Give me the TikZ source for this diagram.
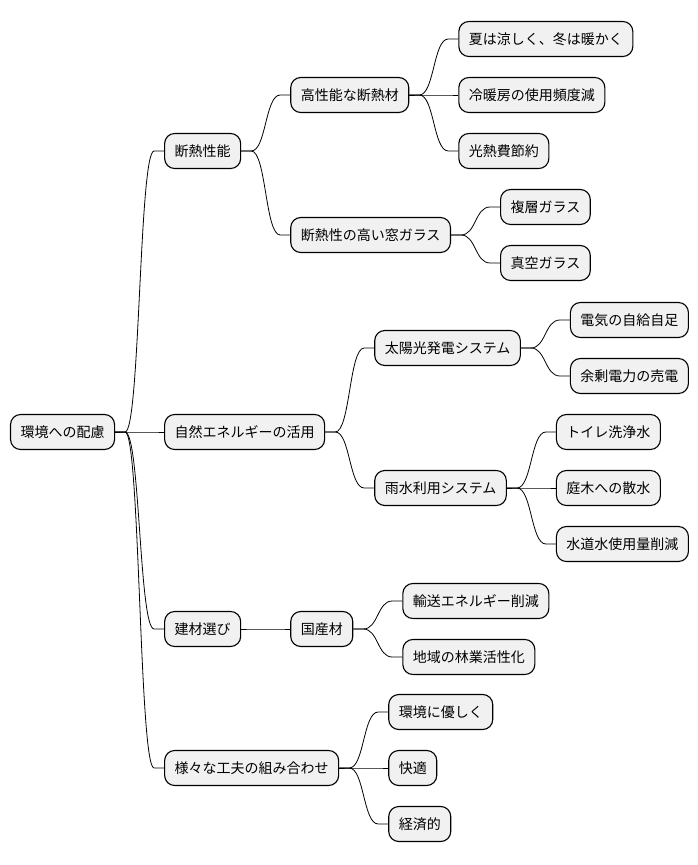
\documentclass[tikz,border=0pt]{standalone}
\usepackage{fontspec}
\setmainfont{Noto Sans CJK JP}
\usetikzlibrary{positioning,calc}
\definecolor{nodegray}{HTML}{F1F1F1}
\tikzstyle{idea}=[draw, fill=nodegray, rounded corners=10pt, line width=1.1pt, inner xsep=10pt, minimum height=35pt, font=\fontsize{14pt}{17pt}\selectfont]
\tikzset{branch/.style={line width=0.8pt, to path={-- ++(10pt,0) .. controls +(15pt,0) and +(-15pt,0) .. ([xshift=-10pt]\tikztotarget) -- (\tikztotarget)}}}

\begin{document}
\begin{tikzpicture}[node distance=49pt]
\node[idea] (R) {環境への配慮};
\node[idea, right=of R, yshift=281pt] (A) {断熱性能};
\node[idea, right=of R] (B) {自然エネルギーの活用};
\node[idea, right=of R, yshift=-197pt] (C) {建材選び};
\node[idea, right=of R, yshift=-336pt] (D) {様々な工夫の組み合わせ};

\node[idea, right=of A, yshift=56pt] (A1) {高性能な断熱材};
\node[idea, right=of A, yshift=-84pt] (A2) {断熱性の高い窓ガラス};
\node[idea, right=of A1, yshift=56pt] (A11) {夏は涼しく、冬は暖かく};
\node[idea, right=of A1] (A12) {冷暖房の使用頻度減};
\node[idea, right=of A1, yshift=-56pt] (A13) {光熱費節約};
\node[idea, right=of A2, yshift=28pt] (A21) {複層ガラス};
\node[idea, right=of A2, yshift=-28pt] (A22) {真空ガラス};

\node[idea, right=of B, yshift=84pt] (B1) {太陽光発電システム};
\node[idea, right=of B, yshift=-56pt] (B2) {雨水利用システム};
\node[idea, right=of B1, yshift=28pt] (B11) {電気の自給自足};
\node[idea, right=of B1, yshift=-28pt] (B12) {余剰電力の売電};
\node[idea, right=of B2, yshift=56pt] (B21) {トイレ洗浄水};
\node[idea, right=of B2] (B22) {庭木への散水};
\node[idea, right=of B2, yshift=-56pt] (B23) {水道水使用量削減};

\node[idea, right=of C] (C1) {国産材};
\node[idea, right=of C1, yshift=28pt] (C11) {輸送エネルギー削減};
\node[idea, right=of C1, yshift=-28pt] (C12) {地域の林業活性化};

\node[idea, right=of D, yshift=56pt] (D1) {環境に優しく};
\node[idea, right=of D] (D2) {快適};
\node[idea, right=of D, yshift=-56pt] (D3) {経済的};

\foreach \p/\c in {R/A, R/B, R/C, R/D, A/A1, A/A2, A1/A11, A1/A12, A1/A13, A2/A21, A2/A22,
  B/B1, B/B2, B1/B11, B1/B12, B2/B21, B2/B22, B2/B23, C/C1, C1/C11, C1/C12, D/D1, D/D2, D/D3}
  \draw[branch] (\p.east) to (\c.west);

\useasboundingbox ([shift={(-10pt,432pt)}]R.west) rectangle ++(698pt,-865pt);
\end{tikzpicture}
\end{document}
